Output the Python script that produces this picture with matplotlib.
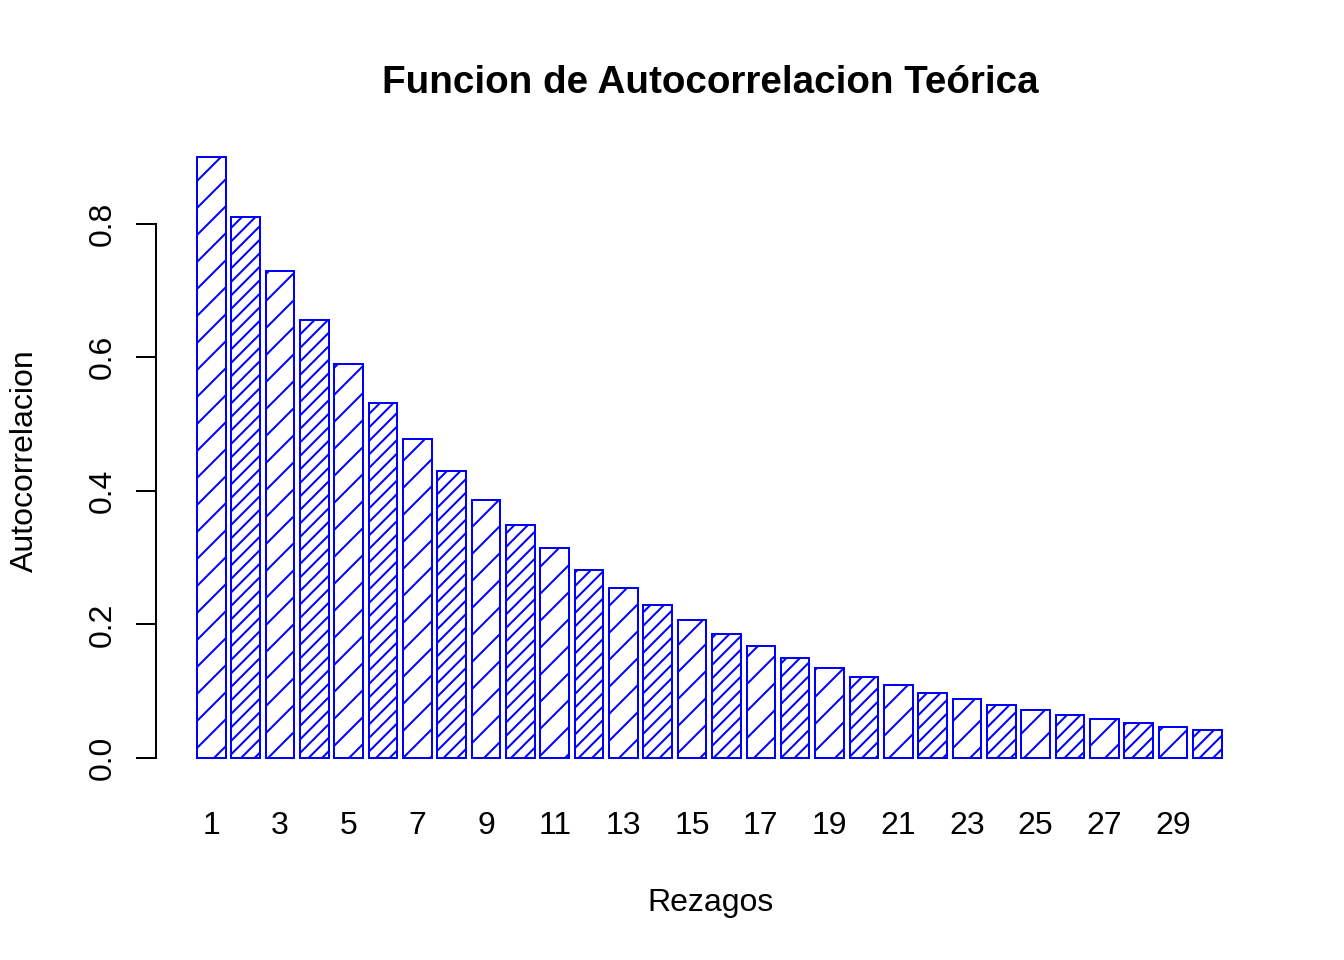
import matplotlib.pyplot as plt

plt.rcParams['font.family'] = ['Liberation Sans', 'DejaVu Sans']
plt.rcParams['hatch.linewidth'] = 0.9

# theoretical ACF values
lags = list(range(1, 31))
acf = [0.900, 0.810, 0.729, 0.656, 0.590, 0.531, 0.478, 0.430, 0.387, 0.349,
       0.314, 0.282, 0.254, 0.229, 0.206, 0.185, 0.167, 0.150, 0.135, 0.122,
       0.109, 0.098, 0.089, 0.080, 0.072, 0.064, 0.058, 0.052, 0.047, 0.042]
yticks = [0.0, 0.2, 0.4, 0.6, 0.8]

W, H = 1344, 960
dpi = 162
px = 72 / dpi  # one pixel in points

fig = plt.figure(figsize=(W / dpi, H / dpi), dpi=dpi)
ax = fig.add_axes([155.8 / W, 178 / H, (1267.4 - 155.8) / W, (782 - 133) / H])

# R barplot style positions: width 1, space 0.2
pos = [0.7 + 1.2 * i for i in range(len(acf))]
bars = ax.bar(pos, acf, width=1.0, color='white', edgecolor='blue',
              linewidth=2 * px)
for i, b in enumerate(bars):
    b.set_hatch('//' if i % 2 == 0 else '////')

ax.set_xlim(-1.24, 37.6)
ax.set_ylim(-0.036, 0.936)

for s in ['top', 'right', 'bottom']:
    ax.spines[s].set_visible(False)
ax.spines['left'].set_bounds(0, 0.8)
ax.spines['left'].set_linewidth(2 * px)

ax.set_yticks(yticks)
ax.set_yticklabels(['%.1f' % v for v in yticks], rotation=90, va='center')
ax.tick_params(axis='y', length=20 * px, width=2 * px, pad=18 * px,
               labelsize=32 * px)

ax.set_xticks([pos[i] for i in range(0, 30, 2)])
ax.set_xticklabels([str(lags[i]) for i in range(0, 30, 2)])
ax.tick_params(axis='x', length=0, pad=29 * px, labelsize=32 * px)

fig.text(710 / W, 1 - 83 / H, 'Funcion de Autocorrelacion Teórica',
         ha='center', va='center', fontsize=38.6 * px, fontweight='bold')
fig.text(710 / W, 1 - 903 / H, 'Rezagos', ha='center', va='center',
         fontsize=32 * px)
fig.text(25 / W, 1 - 461 / H, 'Autocorrelacion', ha='center', va='center',
         rotation=90, fontsize=32 * px)

fig.savefig('out.png', dpi=dpi)
